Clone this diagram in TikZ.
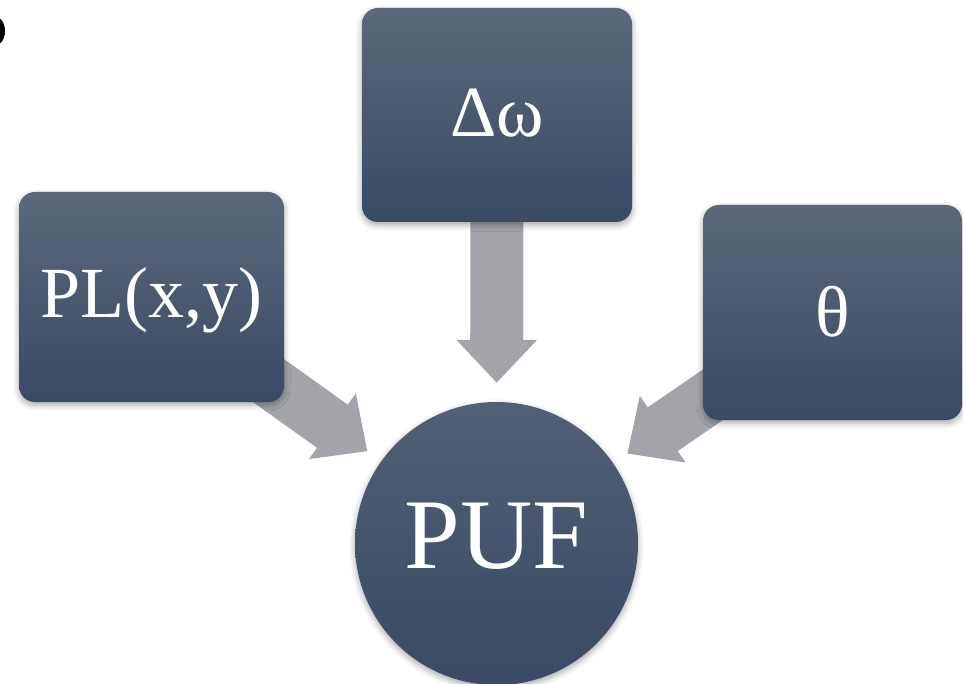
\documentclass[tikz,border=0pt]{standalone}
\usepackage{fontspec}
\setmainfont{Liberation Serif}
\usetikzlibrary{arrows.meta,backgrounds,shadows.blur}
\definecolor{boxtop}{RGB}{92,104,122}
\definecolor{boxbot}{RGB}{58,73,101}
\definecolor{circtop}{RGB}{82,95,116}
\definecolor{circbot}{RGB}{58,74,102}
\definecolor{arrgray}{RGB}{162,164,170}
\tikzset{
  softshadow/.style={blur shadow={shadow xshift=0pt, shadow yshift=-3pt, shadow blur radius=6pt, shadow opacity=35}},
  inbox/.style={draw=none, rounded corners=16pt, top color=boxtop, bottom color=boxbot,
    text=white, font=\fontsize{72}{80}\selectfont, inner sep=0pt, text height=48pt, softshadow},
  incirc/.style={circle, draw=none, top color=circtop, bottom color=circbot, minimum size=283pt,
    text=white, font=\fontsize{100}{110}\selectfont, inner sep=0pt, text height=66pt, text depth=17pt, softshadow},
  bigarrow/.style={draw=arrgray, line width=53pt, -{Triangle[width=78pt,length=43pt]}},
}
\begin{document}
\begin{tikzpicture}[x=1pt,y=-1pt]
\useasboundingbox (0,0) rectangle (963,684);
\fill[black] (-5,31) ellipse [x radius=10, y radius=14.5];

\node[inbox, minimum width=265pt, minimum height=210pt, text depth=6pt] (pl) at (151.5,297) {PL(x,y)};
\node[inbox, minimum width=270pt, minimum height=214pt, text depth=4pt] (dw) at (497,115) {Δω};
\node[inbox, minimum width=259pt, minimum height=215pt, text depth=0pt] (th) at (832.5,312.5) {θ};
\node[incirc] (puf) at (496.5,543.5) {PUF};

\begin{scope}[on background layer]
  \draw[bigarrow, shorten >=19pt] (dw.center) -- (puf);
  \draw[bigarrow, shorten >=17pt] (pl.center) -- (puf);
  \draw[bigarrow, shorten >=17pt] (th.center) -- (puf);
\end{scope}
\end{tikzpicture}
\end{document}
